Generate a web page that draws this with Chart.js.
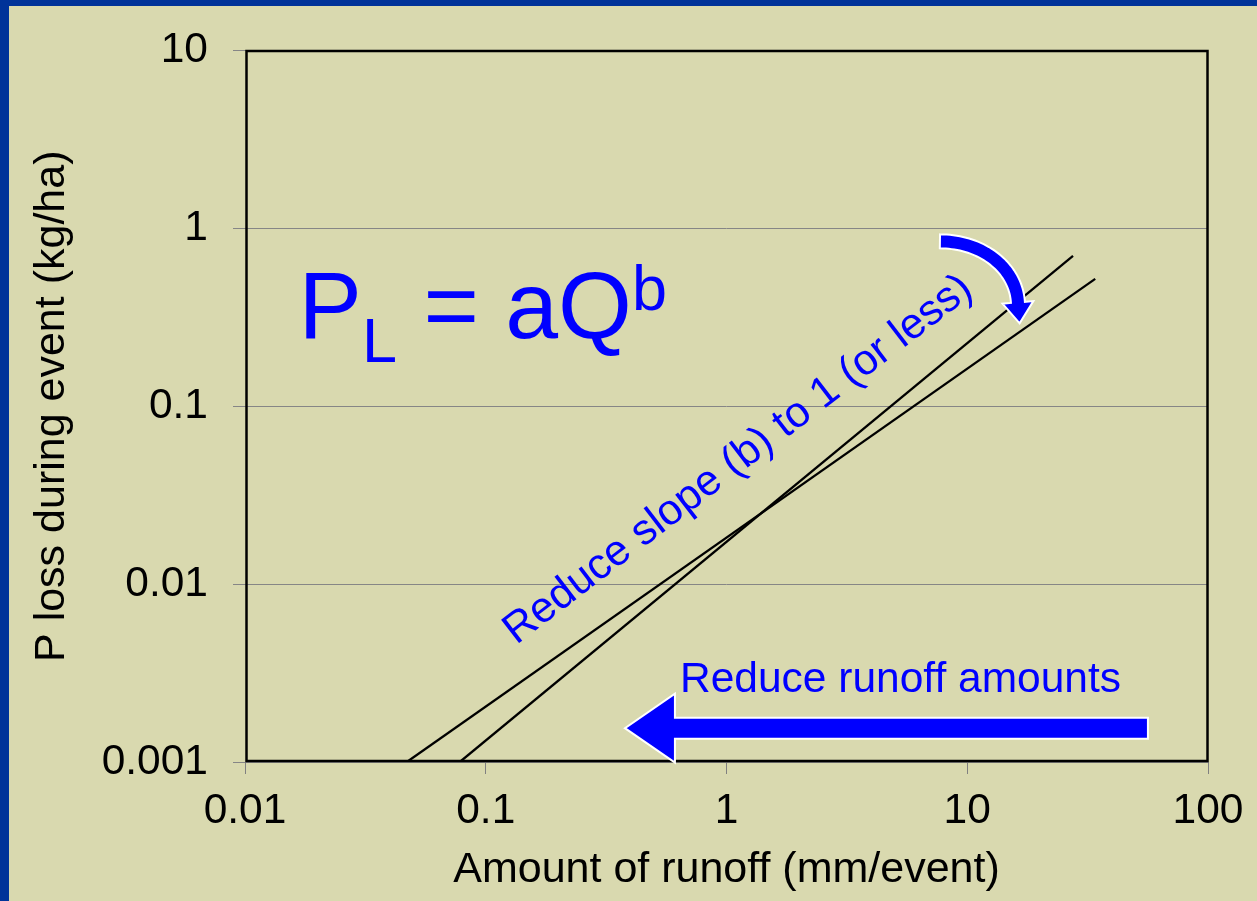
<!DOCTYPE html>
<html>
<head>
<meta charset="utf-8">
<script src="https://cdn.jsdelivr.net/npm/chart.js@4.4.0/dist/chart.umd.min.js"></script>
<style>
  html, body { margin: 0; padding: 0; width: 1257px; height: 901px; overflow: hidden; background: #003399; }
  #slide { position: absolute; left: 9px; top: 6px; right: 0; bottom: 0; background: #D9D9AF; }
  #wrap { position: absolute; left: 0; top: 0; width: 1257px; height: 901px; }
</style>
</head>
<body>
<div id="slide"></div>
<div id="wrap"><canvas id="chart" width="1257" height="901"></canvas></div>
<script>
// Axis ticks (log-log)
const xTickValues = [0.01, 0.1, 1, 10, 100];
const xTickLabels = ['0.01', '0.1', '1', '10', '100'];
const yTickValues = [0.001, 0.01, 0.1, 1, 10];
const yTickLabels = ['0.001', '0.01', '0.1', '1', '10'];

// Current relationship (steeper slope b)
const currentRunoff = [0.078, 27.5];
const currentLoss   = [0.001, 0.70];
// Relationship with slope reduced toward 1
const reducedRunoff = [0.047, 34];
const reducedLoss   = [0.001, 0.52];

const FONT = '"Liberation Sans", Arial, Helvetica, sans-serif';
const BLUE = '#0000FF';

function toPoints(xs, ys) { return xs.map((v, i) => ({ x: v, y: ys[i] })); }

// Filled arrow built from a centre line: shaft of constant width, triangular head
function drawArrow(ctx, pts, halfW, headHalf, headLen) {
  const n = pts.length;
  const left = [], right = [];
  for (let i = 0; i < n; i++) {
    const a = pts[Math.max(0, i - 1)], b = pts[Math.min(n - 1, i + 1)];
    let dx = b[0] - a[0], dy = b[1] - a[1];
    const L = Math.hypot(dx, dy) || 1; dx /= L; dy /= L;
    left.push([pts[i][0] + dy * halfW, pts[i][1] - dx * halfW]);
    right.push([pts[i][0] - dy * halfW, pts[i][1] + dx * halfW]);
  }
  const e = pts[n - 1], p = pts[n - 2];
  let dx = e[0] - p[0], dy = e[1] - p[1];
  const L = Math.hypot(dx, dy) || 1; dx /= L; dy /= L;
  ctx.beginPath();
  ctx.moveTo(left[0][0], left[0][1]);
  for (let i = 1; i < n; i++) ctx.lineTo(left[i][0], left[i][1]);
  ctx.lineTo(e[0] + dy * headHalf, e[1] - dx * headHalf);
  ctx.lineTo(e[0] + dx * headLen, e[1] + dy * headLen);
  ctx.lineTo(e[0] - dy * headHalf, e[1] + dx * headHalf);
  for (let i = n - 1; i >= 0; i--) ctx.lineTo(right[i][0], right[i][1]);
  ctx.closePath();
  ctx.fillStyle = BLUE;
  ctx.fill();
  ctx.lineWidth = 2;
  ctx.strokeStyle = '#FFFFFF';
  ctx.lineJoin = 'miter';
  ctx.stroke();
}

function bezierPoints(p0, p1, p2, p3, steps) {
  const out = [];
  for (let i = 0; i <= steps; i++) {
    const t = i / steps, u = 1 - t;
    out.push([
      u*u*u*p0[0] + 3*u*u*t*p1[0] + 3*u*t*t*p2[0] + t*t*t*p3[0],
      u*u*u*p0[1] + 3*u*u*t*p1[1] + 3*u*t*t*p2[1] + t*t*t*p3[1]
    ]);
  }
  return out;
}

const framePlugin = {
  id: 'frame',
  afterDatasetsDraw(chart) {
    const { ctx, chartArea: a } = chart;
    ctx.save();
    ctx.strokeStyle = '#000000';
    ctx.lineWidth = 2.5;
    ctx.strokeRect(a.left + 1.5, a.top + 0.5, a.right - a.left - 2, a.bottom - a.top - 1.5);
    ctx.restore();
  }
};

const notesPlugin = {
  id: 'notes',
  afterDraw(chart) {
    const { ctx, scales: { x, y } } = chart;
    const X = v => x.getPixelForValue(v);
    const Y = v => y.getPixelForValue(v);
    ctx.save();
    ctx.fillStyle = BLUE;
    ctx.textBaseline = 'alphabetic';
    ctx.textAlign = 'left';

    // P_L = aQ^b
    let px = X(0.0167);
    const py = Y(0.241);
    ctx.font = '95px ' + FONT;
    ctx.fillText('P', px, py);
    px += ctx.measureText('P').width;
    ctx.font = '63px ' + FONT;
    ctx.fillText('L', px, py + 24);
    px += ctx.measureText('L').width;
    ctx.font = '95px ' + FONT;
    ctx.fillText(' = aQ', px, py);
    px += ctx.measureText(' = aQ').width;
    ctx.font = '63px ' + FONT;
    ctx.fillText('b', px, py - 28);

    // Slope label along the lines
    ctx.save();
    ctx.translate(X(1.2), Y(0.0442));
    ctx.rotate(-37.5 * Math.PI / 180);
    ctx.font = '43px ' + FONT;
    ctx.textAlign = 'center';
    ctx.fillText('Reduce slope (b) to 1 (or less)', 0, 0);
    ctx.restore();

    // Runoff label
    ctx.font = '42.5px ' + FONT;
    ctx.textAlign = 'left';
    ctx.fillText('Reduce runoff amounts', X(0.641), Y(0.00247));

    // Straight arrow toward lower runoff
    const sx = X(56.3), sy = Y(0.00155);
    drawArrow(ctx, [[sx, sy], [sx - 473, sy]], 10.5, 34.5, 50);

    // Curved arrow bending the line downward
    const cx = X(7.70), cy = Y(0.845);
    const curve = bezierPoints([cx, cy], [cx + 43, cy], [cx + 76, cy + 27], [cx + 78, cy + 61], 40);
    drawArrow(ctx, curve, 7, 15.5, 21);
    ctx.restore();
  }
};

Chart.defaults.font.family = FONT;
Chart.defaults.color = '#000000';

new Chart(document.getElementById('chart'), {
  type: 'scatter',
  data: {
    datasets: [
      { data: toPoints(currentRunoff, currentLoss), showLine: true, borderColor: '#000000', borderWidth: 2.3, pointRadius: 0, fill: false },
      { data: toPoints(reducedRunoff, reducedLoss), showLine: true, borderColor: '#000000', borderWidth: 2.3, pointRadius: 0, fill: false }
    ]
  },
  options: {
    responsive: false,
    animation: false,
    layout: { padding: { left: 0, top: 50, right: 49, bottom: 0 } },
    plugins: { legend: { display: false }, tooltip: { enabled: false } },
    scales: {
      x: {
        type: 'logarithmic', min: 0.01, max: 100,
        afterBuildTicks: s => { s.ticks = xTickValues.map(v => ({ value: v })); },
        afterFit: s => { s.height = 139; },
        border: { display: false },
        grid: { drawOnChartArea: false, color: '#808080', tickLength: 12, lineWidth: 1 },
        ticks: { font: { size: 42.5 }, color: '#000', padding: 12, maxRotation: 0, autoSkip: false,
                 callback: (v, i) => xTickLabels[i] },
        title: { display: true, text: 'Amount of runoff (mm/event)', font: { size: 43 }, color: '#000',
                 padding: { top: 0, bottom: 5 } }
      },
      y: {
        type: 'logarithmic', min: 0.001, max: 10,
        afterBuildTicks: s => { s.ticks = yTickValues.map(v => ({ value: v })); },
        afterFit: s => { s.width = 245; },
        border: { display: false },
        grid: { color: '#868686', tickLength: 12, lineWidth: 1 },
        ticks: { font: { size: 42.5 }, color: '#000', padding: 25, autoSkip: false,
                 callback: (v, i) => yTickLabels[i] },
        title: { display: true, text: 'P loss during event (kg/ha)', font: { size: 43 }, color: '#000',
                 padding: { top: 26, bottom: 0 } }
      }
    }
  },
  plugins: [framePlugin, notesPlugin]
});
</script>
</body>
</html>
